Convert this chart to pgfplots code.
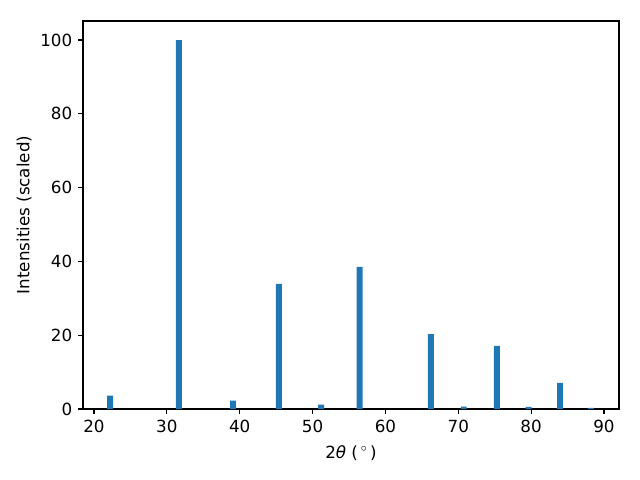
\documentclass[border=0pt]{standalone}
\usepackage{fontspec}
\setmainfont{DejaVu Sans}
\usepackage{pgfplots}
\pgfplotsset{compat=1.18}
\definecolor{mplblue}{HTML}{1F77B4}
\begin{document}
\fontsize{12bp}{14bp}\selectfont
\begin{tikzpicture}
\path[use as bounding box] (-59.76pt,-51.12pt) rectangle (401.04pt,294.48pt);
\begin{axis}[
  at={(0,0)}, anchor=south west,
  scale only axis, width=385.92pt, height=279.36pt,
  xmin=18.49, xmax=92.06, ymin=0, ymax=105.15,
  xtick={20,30,40,50,60,70,80,90},
  ytick={0,20,40,60,80,100},
  tick align=outside, major tick length=3.5bp,
  tick style={black, line width=0.8bp},
  axis line style={line width=0.8bp},
  xtick pos=bottom, ytick pos=left,
  /pgf/number format/assume math mode=true,
  ticklabel style={font=\fontsize{12bp}{14bp}\selectfont},
  label style={font=\fontsize{12bp}{14bp}\selectfont},
  xlabel={2\textit{θ} (\,$^{\circ}$\,)},
  ylabel={Intensities (scaled)},
  xlabel style={yshift=-1pt},
  ylabel style={yshift=-2pt},
  ybar, bar width=0.82,
]
\addplot[fill=mplblue, draw=none] coordinates {
(22.2,3.6) (31.66,100) (39.08,2.25) (45.39,33.9) (51.16,1.17) (56.47,38.5)
(66.23,20.3) (70.75,0.63) (75.31,17.1) (79.64,0.6) (83.96,7.1) (88.2,0.3)
};
\end{axis}
\end{tikzpicture}
\end{document}
